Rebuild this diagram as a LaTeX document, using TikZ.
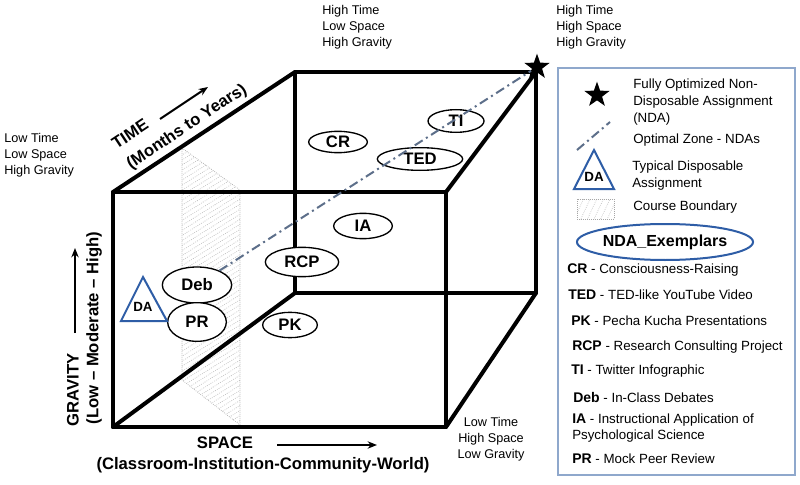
\documentclass[tikz,border=0pt]{standalone}
\usepackage{fontspec}
\setmainfont{Liberation Sans}
\usetikzlibrary{shapes.geometric,patterns.meta,arrows.meta}
\definecolor{triblue}{HTML}{2E5DA6}
\definecolor{ddline}{HTML}{5D6F8A}
\definecolor{lgborder}{HTML}{8FA8CC}
\newcommand\exab[1]{{\fontsize{10.5}{12}\selectfont\bfseries #1}}
\begin{document}
\begin{tikzpicture}[x=0.75pt,y=-0.75pt,
 cubeedge/.style={line width=3pt, line cap=round, line join=round},
 exell/.style={ellipse, draw, line width=1pt, fill=white, inner sep=0pt, font=\fontsize{12.5}{14}\selectfont\bfseries},
 corner/.style={align=left, inner sep=0pt, font=\fontsize{9.5}{12}\selectfont},
 axislab/.style={inner sep=0pt, font=\fontsize{12.5}{15}\selectfont\bfseries},
 ddash/.style={draw=ddline, line width=1.5pt, dash pattern=on 7pt off 3pt on 1.5pt off 3pt},
 hatchborder/.style={draw=gray!70, densely dotted, line width=0.5pt},
 datri/.style={draw=triblue, line width=1.5pt, line join=miter},
 axarrow/.style={-{Stealth[length=7pt,width=5.5pt]}, line width=1.5pt},
 lgtext/.style={anchor=west, align=left, inner sep=0pt, font=\fontsize{10}{12.75}\selectfont},
 exitem/.style={anchor=west, align=left, inner sep=0pt, font=\fontsize{10}{11.5}\selectfont},
]
\useasboundingbox (0,0) rectangle (800,485);
\fill[white] (0,0) rectangle (800,485);

% course boundary hatch
\path[hatchborder, pattern={Lines[angle=32, distance=3.2pt, line width=0.45pt]}, pattern color=gray!55]
  (182,148) -- (240,190) -- (240,425) -- (182,380) -- cycle;

% cube corners
\coordinate (fTL) at (113,192);
\coordinate (fTR) at (446,192);
\coordinate (fBL) at (113,427);
\coordinate (fBR) at (446,427);
\coordinate (bTL) at (295,72);
\coordinate (bTR) at (536,72);
\coordinate (bBL) at (295,293);
\coordinate (bBR) at (536,293);

\draw[cubeedge] (bTL) -- (bTR) -- (bBR) -- (bBL) -- cycle;
\draw[cubeedge] (fTL) -- (bTL);
\draw[cubeedge] (fTR) -- (bTR);
\draw[cubeedge] (fBL) -- (bBL);
\draw[cubeedge] (fBR) -- (bBR);
\draw[cubeedge] (fTL) -- (fTR) -- (fBR) -- (fBL) -- cycle;

% exemplar ellipses
\node[exell, minimum width=44pt, minimum height=16pt] (CR) at (338,142) {CR};
\node[exell, minimum width=64pt, minimum height=17pt] (TED) at (420,159) {TED};
\node[exell, minimum width=42pt, minimum height=17pt] (TI) at (456,121) {TI};
\node[exell, minimum width=44pt, minimum height=19pt] (IA) at (363,226) {IA};
\node[exell, minimum width=55pt, minimum height=22pt] (RCP) at (302,262) {RCP};
\node[exell, minimum width=41pt, minimum height=19pt] (PK) at (290,325) {PK};
\node[exell, minimum width=52pt, minimum height=27pt] (Deb) at (197,285) {Deb};
\node[exell, minimum width=44pt, minimum height=29pt] (PR) at (197,322) {PR};

% DA triangle
\draw[datri] (143,277) -- (121,321) -- (167,321) -- cycle;
\node[inner sep=0pt, font=\fontsize{10}{12}\selectfont\bfseries] (DA) at (143,307) {DA};

% optimal star and zone
\node[star, star points=5, star point ratio=2.5, fill=black, minimum size=20pt, inner sep=0pt] (optstar) at (537,67) {};
\draw[ddash] (Deb) -- (optstar);

% corner labels
\node[corner, anchor=west] (c1) at (322,27) {High Time\\Low Space\\High Gravity};
\node[corner, anchor=west] (c2) at (556,27) {High Time\\High Space\\High Gravity};
\node[corner, anchor=west] (c3) at (4,155) {Low Time\\Low Space\\High Gravity};
\node[corner, align=center] (c4) at (491,439) {Low Time\\High Space\\Low Gravity};

% axis labels
\node[axislab, rotate=33.5] (timelab) at (130,134) {TIME};
\node[axislab, rotate=33.5] (timesub) at (187,127) {(Months to Years)};
\coordinate (tA) at (160,119);
\coordinate (tB) at (208,87);
\draw[axarrow] (tA) -- (tB);

\node[axislab, rotate=90] (gravlab) at (73,390) {GRAVITY};
\node[axislab, rotate=90] (gravsub) at (94,328) {(Low – Moderate – High)};
\coordinate (gA) at (75,333);
\coordinate (gB) at (75,248);
\draw[axarrow] (gA) -- (gB);

\node[axislab] (spacelab) at (225,443) {SPACE};
\node[axislab] (spacesub) at (263,465) {(Classroom-Institution-Community-World)};
\coordinate (sA) at (277,445);
\coordinate (sB) at (377,445);
\draw[axarrow] (sA) -- (sB);

% legend
\draw[lgborder, line width=1pt] (558,68) rectangle (795,475);
\node[star, star points=5, star point ratio=2.5, fill=black, minimum size=20pt, inner sep=0pt] (lgstar) at (597,95) {};
\node[lgtext] (lg1) at (633,102) {Fully Optimized Non-\\Disposable Assignment\\(NDA)};
\coordinate (ldA) at (577,150);
\coordinate (ldB) at (610,122);
\draw[ddash] (ldA) -- (ldB);
\node[lgtext] (lg2) at (633,140) {Optimal Zone - NDAs};
\draw[datri] (594,150) -- (574,189) -- (614,189) -- cycle;
\node[inner sep=0pt, font=\fontsize{10}{12}\selectfont\bfseries] (lgDA) at (594,177) {DA};
\node[lgtext] (lg3) at (632,176) {Typical Disposable\\Assignment};
\path[hatchborder, pattern={Lines[angle=65, distance=4.5pt, line width=0.45pt]}, pattern color=gray!55] (577,199) rectangle (614,219);
\node[lgtext] (lg4) at (633,207) {Course Boundary};
\node[ellipse, draw=triblue, line width=1.5pt, minimum width=120pt, minimum height=27pt, inner sep=0pt, font=\fontsize{12}{14}\selectfont\bfseries] (ndaex) at (665,242) {NDA\_Exemplars};

\node[exitem] (eCR) at (567,270) {\exab{CR} - Consciousness-Raising};
\node[exitem] (eTED) at (568,295) {\exab{TED} - TED-like YouTube Video};
\node[exitem] (ePK) at (571,321) {\exab{PK} - Pecha Kucha Presentations};
\node[exitem] (eRCP) at (572,347) {\exab{RCP} - Research Consulting Project};
\node[exitem] (eTI) at (571,371) {\exab{TI} - Twitter Infographic};
\node[exitem] (eDeb) at (573,397) {\exab{Deb} - In-Class Debates};
\node[exitem] (eIA) at (572,428) {\exab{IA} - Instructional Application of\\Psychological Science};
\node[exitem] (ePR) at (572,459) {\exab{PR} - Mock Peer Review};
\end{tikzpicture}
\end{document}
